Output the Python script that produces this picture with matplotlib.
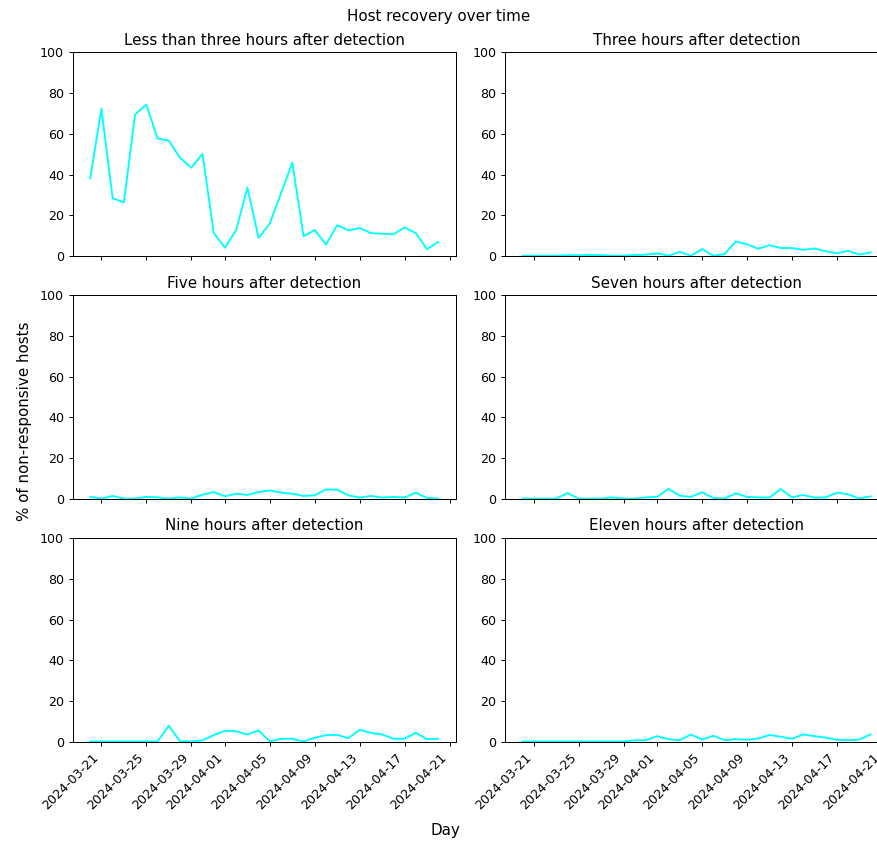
import numpy as np
import pandas as pd
from matplotlib import pyplot as plt

plt.rcParams.update({
    "font.size": 9.05,
    "lines.linewidth": 1.36,
    "axes.linewidth": 0.72,
    "xtick.major.size": 3.2,
    "ytick.major.size": 3.2,
    "xtick.major.width": 0.72,
    "ytick.major.width": 0.72,
    "xtick.major.pad": 3.2,
    "ytick.major.pad": 3.2,
    "axes.titlepad": 5.4,
})

days = pd.date_range("2024-03-20", "2024-04-20", freq="D")

titles = [
    "Less than three hours after detection",
    "Three hours after detection",
    "Five hours after detection",
    "Seven hours after detection",
    "Nine hours after detection",
    "Eleven hours after detection",
]

# % of hosts still not responding, one value per day
lt_three_h = [38.2, 72.3, 28.4, 26.4, 69.5, 74.3, 57.7, 56.7, 48.2, 43.4, 50.2, 11.5,
              4.1, 12.8, 33.6, 8.9, 16.1, 30.9, 45.9, 9.8, 12.8, 5.7, 15.2, 12.6,
              13.8, 11.3, 11.0, 10.7, 14.1, 11.3, 3.4, 7.0]
three_h = [0.2, 0.2, 0.2, 0.2, 0.5, 0.4, 0.6, 0.5, 0.2, 0.2, 0.6, 0.7,
           1.4, 0.2, 2.1, 0.2, 3.5, 0.2, 1.0, 7.2, 5.8, 3.6, 5.4, 4.0,
           4.0, 3.1, 3.8, 2.4, 1.4, 2.6, 0.8, 1.8]
five_h = [1.0, 0.2, 1.5, 0.2, 0.2, 1.1, 0.8, 0.2, 0.8, 0.2, 2.1, 3.4,
          1.3, 2.6, 2.0, 3.4, 4.2, 3.1, 2.6, 1.5, 1.8, 4.7, 4.6, 1.8,
          0.7, 1.5, 0.7, 1.0, 0.7, 3.1, 0.5, 0.2]
seven_h = [0.2, 0.2, 0.2, 0.2, 2.9, 0.2, 0.2, 0.2, 0.8, 0.2, 0.2, 0.8,
           1.1, 5.0, 1.6, 1.0, 3.3, 0.5, 0.2, 2.8, 1.0, 0.8, 0.7, 4.9,
           0.8, 2.0, 0.7, 0.8, 3.1, 2.3, 0.2, 1.3]
nine_h = [0.2, 0.2, 0.2, 0.2, 0.2, 0.2, 0.2, 7.9, 0.2, 0.2, 0.7, 3.3,
          5.4, 5.2, 3.6, 5.6, 0.2, 1.5, 1.5, 0.2, 2.0, 3.3, 3.4, 1.8,
          5.9, 4.4, 3.6, 1.5, 1.5, 4.4, 1.3, 1.5]
eleven_h = [0.2, 0.2, 0.2, 0.2, 0.2, 0.2, 0.2, 0.2, 0.2, 0.2, 0.7, 0.8,
            2.8, 1.3, 0.8, 3.6, 1.1, 3.0, 0.8, 1.3, 1.0, 1.6, 3.4, 2.5,
            1.5, 3.6, 2.8, 2.1, 1.0, 0.8, 1.1, 3.6]

series = [lt_three_h, three_h, five_h, seven_h, nine_h, eleven_h]

fig, axes = plt.subplots(3, 2, figsize=(8.77, 8.43), dpi=100, sharex=True)
fig.subplots_adjust(left=0.083, right=1.0125, top=0.938, bottom=0.12,
                    wspace=0.129, hspace=0.191)

for ax, title, vals in zip(axes.flat, titles, series):
    ax.plot(days, vals, color="cyan")
    ax.set_title(title)
    ax.set_ylim(0, 100)

for ax in axes[-1]:
    plt.setp(ax.get_xticklabels(), rotation=45, ha="right")

fig.suptitle("Host recovery over time", y=1 - 16 / 843, va="center")
fig.supxlabel("Day", x=0.508, y=1 - 830 / 843, va="center")
fig.supylabel("% of non-responsive hosts", x=0.019, va="center")

plt.savefig("out.png", dpi=100)
